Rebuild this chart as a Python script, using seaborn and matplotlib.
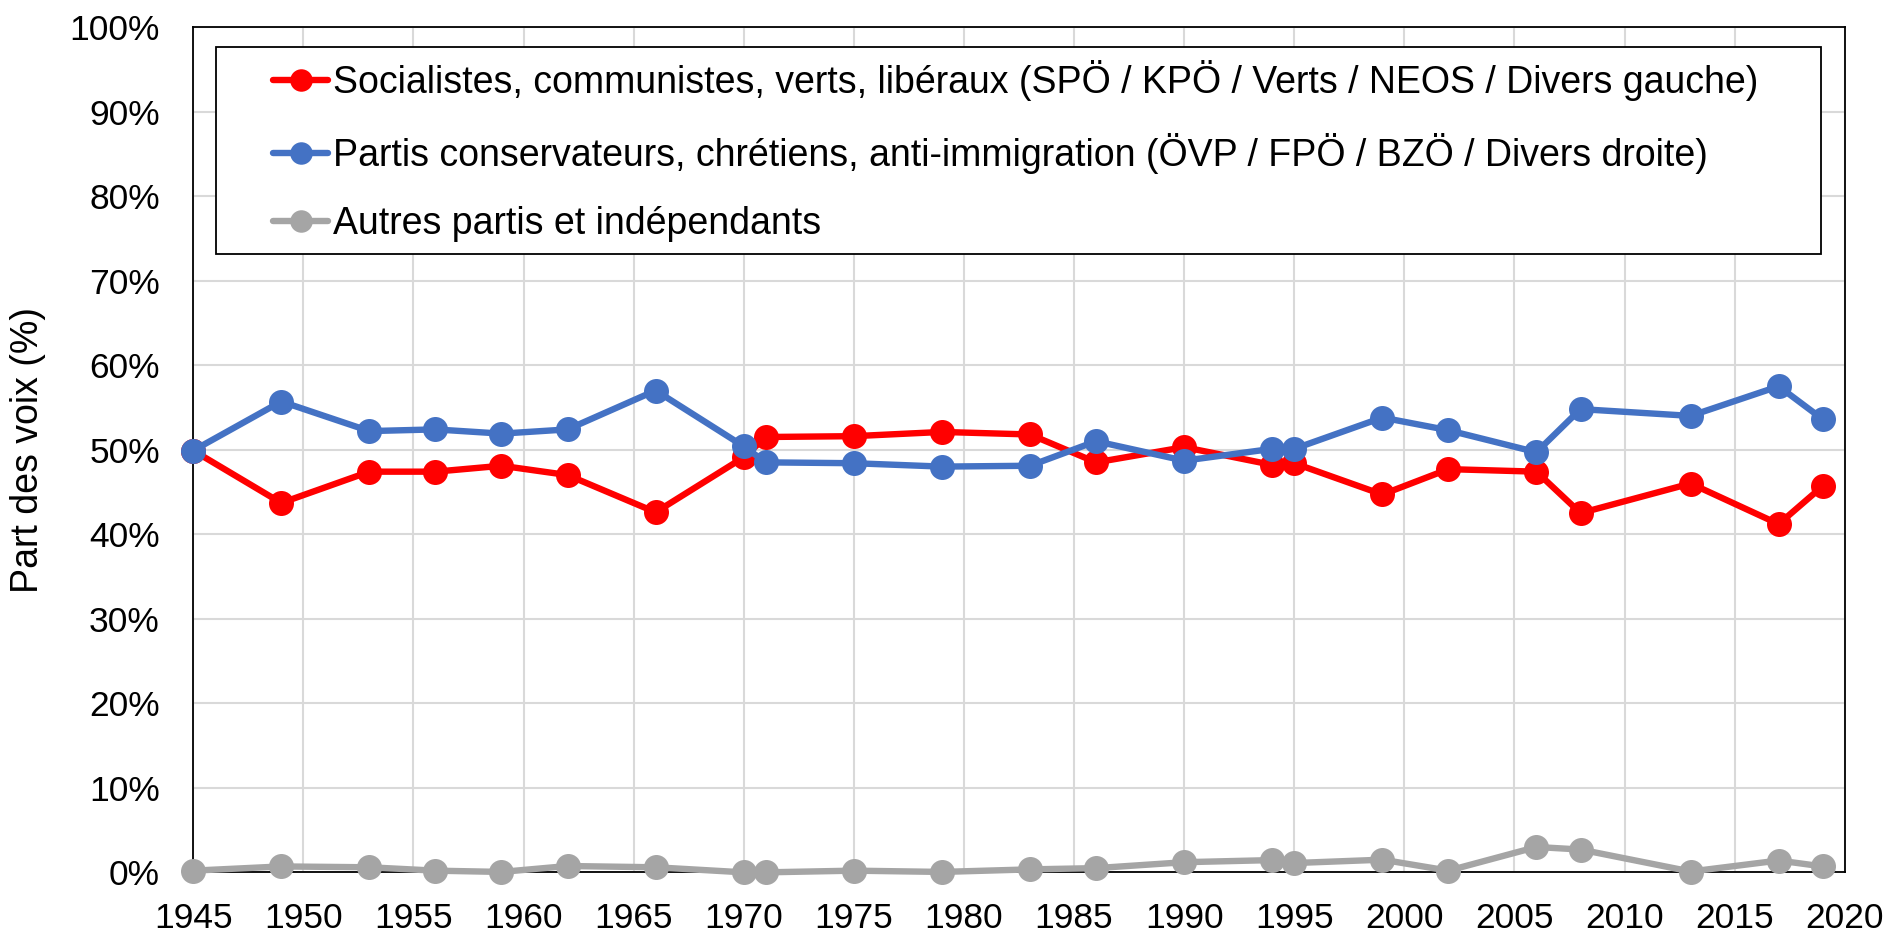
import numpy as np
import pandas as pd
import matplotlib
matplotlib.use("Agg")
import matplotlib.pyplot as plt
import matplotlib.patches as patches
import seaborn as sns
from matplotlib.ticker import PercentFormatter, MultipleLocator

# Election years
years = [1945, 1949, 1953, 1956, 1959, 1962, 1966, 1970, 1971, 1975, 1979, 1983,
         1986, 1990, 1994, 1995, 1999, 2002, 2006, 2008, 2013, 2017, 2019]

# Vote shares (%)
gauche = [49.9, 43.7, 47.4, 47.4, 48.1, 47.0, 42.6, 49.1, 51.5, 51.6, 52.1, 51.8,
          48.5, 50.3, 48.2, 48.4, 44.7, 47.7, 47.4, 42.5, 46.0, 41.2, 45.7]
droite = [49.9, 55.7, 52.2, 52.4, 51.9, 52.4, 57.0, 50.4, 48.5, 48.4, 48.0, 48.1,
          51.0, 48.7, 50.1, 50.1, 53.8, 52.3, 49.7, 54.8, 54.0, 57.5, 53.6]
autres = [0.2, 0.7, 0.6, 0.2, 0.05, 0.75, 0.6, 0.0, 0.0, 0.2, 0.05, 0.35,
          0.5, 1.2, 1.45, 1.1, 1.5, 0.2, 3.0, 2.7, 0.1, 1.4, 0.7]

labels = ["Socialistes, communistes, verts, libéraux (SPÖ / KPÖ / Verts / NEOS / Divers gauche)",
          "Partis conservateurs, chrétiens, anti-immigration (ÖVP / FPÖ / BZÖ / Divers droite)",
          "Autres partis et indépendants"]
colors = ["#FF0000", "#4472C4", "#A5A5A5"]

sns.set_style("whitegrid")
plt.rcParams['font.family'] = ['Liberation Sans', 'DejaVu Sans']
plt.rcParams['text.color'] = 'black'
plt.rcParams['axes.labelcolor'] = 'black'

fig = plt.figure(figsize=(18.94, 9.32), dpi=100)
ax = fig.add_axes([0.102, 0.064, 0.872, 0.907])

for values, label, color in zip([gauche, droite, autres], labels, colors):
    frame = pd.DataFrame({"Année": years, "Part": np.array(values) / 100})
    sns.lineplot(x="Année", y="Part", data=frame, ax=ax, color=color, label=label,
                 marker="o", markersize=18, linewidth=4.6, markeredgewidth=0,
                 clip_on=False, zorder=3)

ax.set_xlim(1945, 2020)
ax.set_ylim(0, 1)
ax.xaxis.set_major_locator(MultipleLocator(5))
ax.yaxis.set_major_locator(MultipleLocator(0.1))
ax.yaxis.set_major_formatter(PercentFormatter(1.0, decimals=0))
ax.grid(True, color="#D9D9D9", linewidth=1.5)
ax.tick_params(axis="both", labelsize=25.5, length=0, colors="black")
ax.tick_params(axis="x", pad=21)
ax.tick_params(axis="y", pad=24)
for spine in ax.spines.values():
    spine.set_color("black")
    spine.set_linewidth(1.3)
ax.set_xlabel("")
ax.set_ylabel("Part des voix (%)", fontsize=27, color="black")
ax.yaxis.set_label_coords(-0.089, 0.5)

# legend box
box = patches.Rectangle((0.0139, 0.731), 0.972, 0.245, transform=ax.transAxes,
                        facecolor="white", edgecolor="black", linewidth=1.3, zorder=4)
ax.add_patch(box)

leg = ax.legend(loc="upper left", bbox_to_anchor=(0.0484, 0.961),
                fontsize=27, frameon=False, borderpad=0, markerscale=0.9,
                labelspacing=0.86, handlelength=1.47, handletextpad=0.13,
                borderaxespad=0, labelcolor="black")
leg.set_zorder(5)

plt.savefig("out.png", dpi=100)
